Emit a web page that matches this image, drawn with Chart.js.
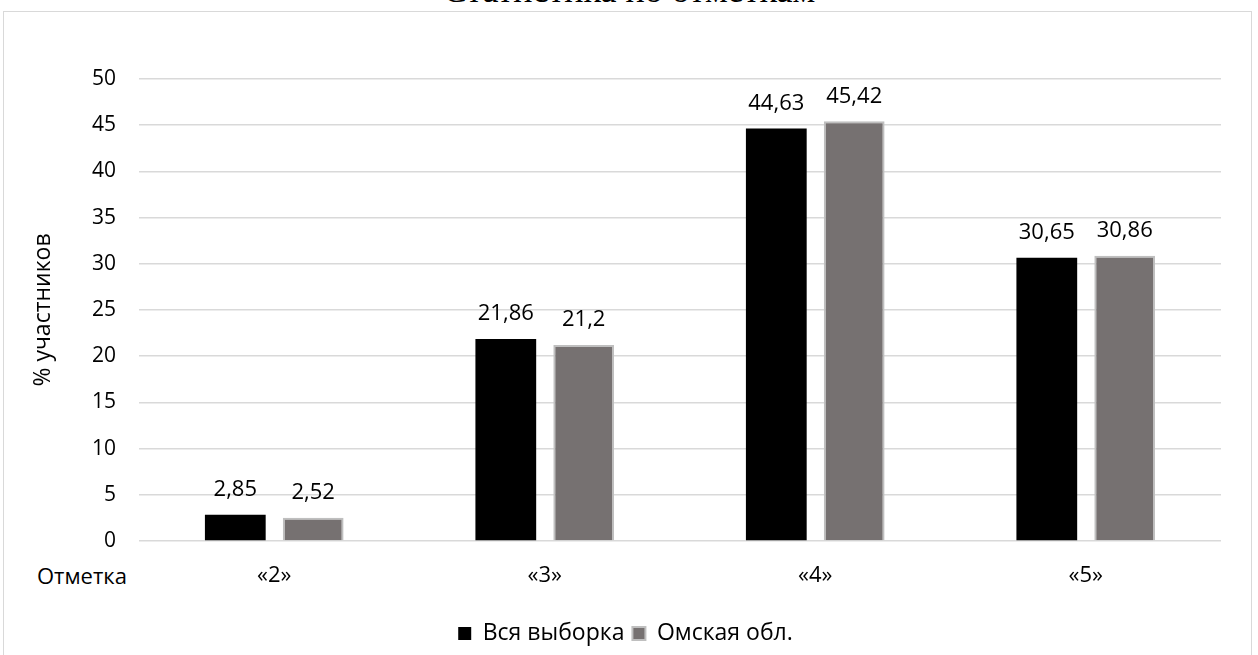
<!DOCTYPE html>
<html>
<head>
<meta charset="utf-8">
<script src="https://cdn.jsdelivr.net/npm/chart.js@4/dist/chart.umd.min.js"></script>
<style>
  body { margin: 0; background: #fff; overflow: hidden; }
  #wrap { position: relative; width: 1258px; height: 655px; overflow: hidden; }
  #frame { position: absolute; left: 3px; top: 11px; width: 1247px; height: 700px; border: 1px solid #d9d9d9; }
  #title { position: absolute; left: 0; width: 1258px; top: -28px; text-align: center; font: 36px "Liberation Serif", serif; line-height: 1; color: #000; }
  #xname { position: absolute; left: 37px; top: 560px; font: 22px "Open Sans", sans-serif; line-height: 30px; color: #000; }
  canvas { position: absolute; left: 0; top: 0; }
</style>
</head>
<body>
<div id="wrap">
  <div id="frame"></div>
  <div id="title">Статистика по отметкам</div>
  <div id="xname">Отметка</div>
  <canvas id="graph-canvas" width="1258" height="655"></canvas>
</div>
<script>
const grades = ['«2»', '«3»', '«4»', '«5»']
const allSample = [2.85, 21.86, 44.63, 30.65]
const omskRegion = [2.52, 21.2, 45.42, 30.86]
const seriesNames = ['Вся выборка', 'Омская обл.']
const yTicks = [0, 5, 10, 15, 20, 25, 30, 35, 40, 45, 50]

const fontFamily = '"Open Sans", sans-serif'

const valueLabels = {
    id: 'valueLabels',
    afterDatasetsDraw: (chart) => {
        const ctx = chart.ctx
        ctx.save()
        ctx.font = '22px ' + fontFamily
        ctx.fillStyle = '#000'
        ctx.textAlign = 'center'
        ctx.textBaseline = 'bottom'
        chart.data.datasets.forEach((ds, i) => {
            chart.getDatasetMeta(i).data.forEach((bar, j) => {
                ctx.fillText(String(ds.data[j]).replace('.', ','), bar.x, bar.y - 14)
            })
        })
        ctx.restore()
    }
}

createChart = () => {
    const chart = new Chart(document.getElementById('graph-canvas'), {
        type: 'bar',
        data: {
            labels: grades,
            datasets: [
                {
                    label: seriesNames[0],
                    data: allSample,
                    backgroundColor: '#000000',
                    borderColor: '#000000',
                    borderWidth: 0
                },
                {
                    label: seriesNames[1],
                    data: omskRegion,
                    backgroundColor: '#767171',
                    borderColor: '#bfbfbf',
                    borderWidth: 2
                }
            ]
        },
        options: {
            responsive: false,
            animation: false,
            categoryPercentage: 0.576,
            barPercentage: 0.78,
            layout: { padding: { left: 30, right: 37, top: 79, bottom: 0 } },
            plugins: {
                tooltip: { enabled: false },
                legend: {
                    position: 'bottom',
                    labels: {
                        boxWidth: 13,
                        boxHeight: 13,
                        padding: 8,
                        color: '#000',
                        font: { family: fontFamily, size: 23 }
                    }
                }
            },
            scales: {
                x: {
                    grid: { display: false, drawTicks: false },
                    border: { display: false },
                    ticks: { color: '#000', padding: 22, font: { family: fontFamily, size: 22 } },
                    afterFit: (axis) => { axis.height = 73 }
                },
                y: {
                    min: 0,
                    max: 50,
                    afterBuildTicks: (axis) => { axis.ticks = yTicks.map((v) => ({ value: v })) },
                    grid: { color: '#d9d9d9', lineWidth: 1.5, drawTicks: false },
                    border: { display: false },
                    ticks: { color: '#000', padding: 23, font: { family: fontFamily, size: 21 } },
                    title: {
                        display: true,
                        text: '% участников',
                        color: '#000',
                        padding: { top: 0, bottom: 0 },
                        font: { family: fontFamily, size: 23 }
                    },
                    afterFit: (axis) => { axis.width = 109 }
                }
            }
        },
        plugins: [valueLabels]
    })
}

createChart()
</script>
</body>
</html>
